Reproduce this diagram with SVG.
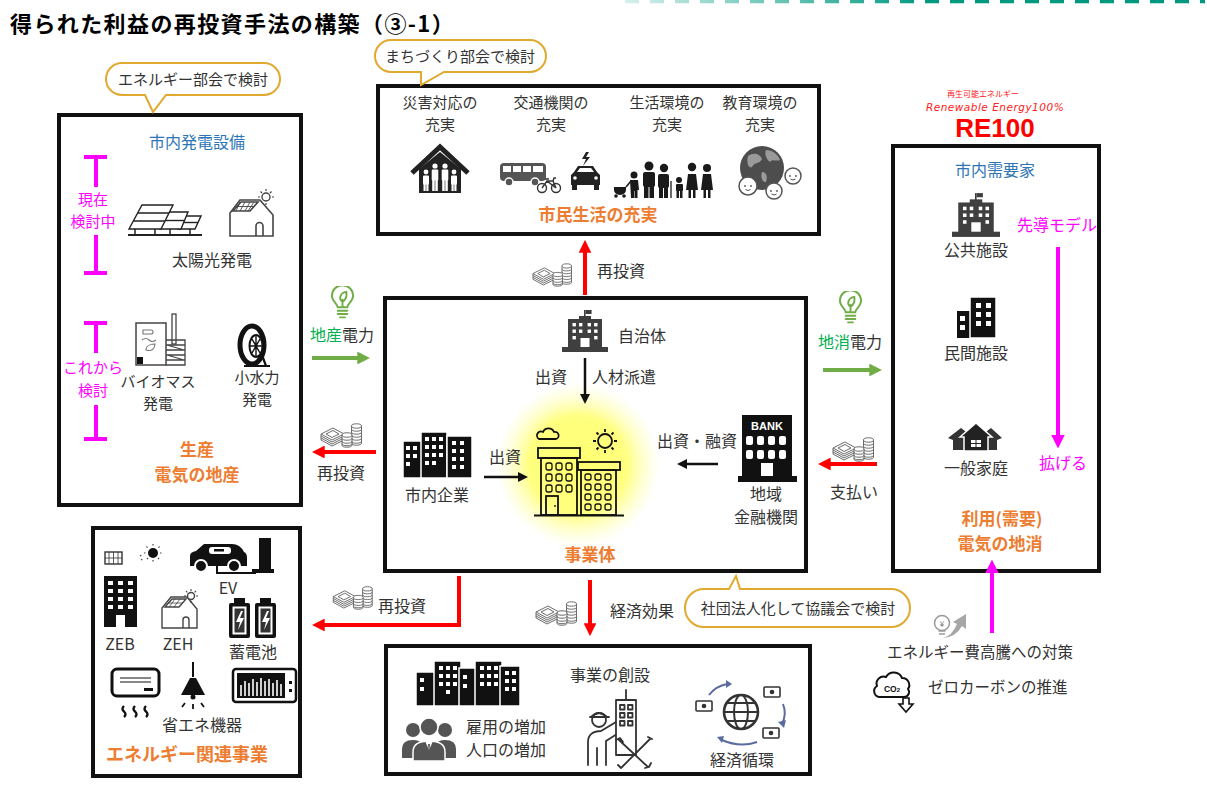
<svg xmlns="http://www.w3.org/2000/svg" width="1207" height="785" viewBox="0 0 1207 785">
<style>
text{font-family:"Noto Sans CJK JP","Noto Sans",sans-serif;fill:#333;font-size:16px}
.m{text-anchor:middle}
.box{fill:#fff;stroke:#111;stroke-width:4}
.hd{fill:#ED7D31;font-weight:bold;font-size:17px}
.bl{fill:#2E75B6}
.mg{fill:#FF00FF}
.gr{fill:#00B050}
.call{fill:#fff;stroke:#E1A92E;stroke-width:2}
.sm{font-size:15px}
.ar{fill:none;stroke-width:4}
.red{stroke:#FF0000}
.grn{stroke:#70AD47}
.blk{stroke:#111;stroke-width:2.5;fill:none}
.mgl{stroke:#FF00FF;stroke-width:4;fill:none}
.k{fill:#111}
.w{fill:#fff}
.ol{fill:#fff;stroke:#222;stroke-width:1.5}
</style>
<defs>
<linearGradient id="dashfade" gradientUnits="userSpaceOnUse" x1="625" y1="0" x2="930" y2="0">
<stop offset="0" stop-color="#d6f0ec"/><stop offset="1" stop-color="#00997f"/>
</linearGradient>
<radialGradient id="glow">
<stop offset="0" stop-color="#ffff70"/><stop offset="0.6" stop-color="#ffff80"/><stop offset="1" stop-color="#ffffc0" stop-opacity="0"/>
</radialGradient>
<marker id="ah-red" viewBox="0 0 10 10" refX="6" refY="5" markerWidth="3.2" markerHeight="3.2" orient="auto"><path d="M0,0L10,5L0,10z" fill="#FF0000"/></marker>
<marker id="ah-grn" viewBox="0 0 10 10" refX="6" refY="5" markerWidth="3.2" markerHeight="3.2" orient="auto"><path d="M0,0L10,5L0,10z" fill="#70AD47"/></marker>
<marker id="ah-blk" viewBox="0 0 10 10" refX="6" refY="5" markerWidth="4" markerHeight="4" orient="auto"><path d="M0,0L10,5L0,10z" fill="#111"/></marker>
<marker id="ah-mg" viewBox="0 0 10 10" refX="6" refY="5" markerWidth="3.4" markerHeight="3.4" orient="auto"><path d="M0,0L10,5L0,10z" fill="#FF00FF"/></marker>
<symbol id="money" viewBox="0 0 42 26">
<g stroke="#6b6b6b" stroke-width="1" fill="#fff">
<path d="M31.5,4 V21 A5,2.2 0 0 0 41.5,21 V4"/>
<ellipse cx="36.5" cy="4" rx="5" ry="2.2"/>
<path d="M31.5,7 A5,2.2 0 0 0 41.5,7 M31.5,10 A5,2.2 0 0 0 41.5,10 M31.5,13 A5,2.2 0 0 0 41.5,13 M31.5,16 A5,2.2 0 0 0 41.5,16 M31.5,19 A5,2.2 0 0 0 41.5,19" fill="none"/>
<path d="M1,12 V18 L12,24 L24,18 V12"/>
<path d="M1,14 L12,20 L24,14 M1,16 L12,22 L24,16" fill="none"/>
<path d="M1,12 L13,6 L24,12 L12,18Z"/>
<path d="M6,12 L13,8.5 L19,12 L12,15.5Z" fill="none"/>
<path d="M22,13 V23 A5,2.2 0 0 0 32,23 V13"/>
<ellipse cx="27" cy="13" rx="5" ry="2.2"/>
<path d="M22,16 A5,2.2 0 0 0 32,16 M22,19 A5,2.2 0 0 0 32,19 M22,21.5 A5,2.2 0 0 0 32,21.5" fill="none"/>
</g>
</symbol>
<symbol id="bulb" viewBox="0 0 26 34">
<g fill="none" stroke="#70AD47" stroke-width="2" stroke-linecap="round">
<path d="M8,22 C8,18 2,16 2,10 A11,11 0 0 1 24,10 C24,16 18,18 18,22 Z"/>
<path d="M8,25.5 H18 M8,29 H18 M10.5,32.5 H15.5"/>
<path d="M13,21 V14 M13,16 C9,14 10,7 17,6 C18,12 15,15 13,16"/>
</g>
</symbol>
<symbol id="pub" viewBox="0 0 46 42">
<g fill="#3f3f3f">
<rect x="22" y="0" width="1.6" height="8"/>
<rect x="23.6" y="0" width="6" height="4"/>
<rect x="17" y="6" width="12" height="4"/>
<rect x="6" y="9" width="34" height="29"/>
<rect x="0" y="37" width="46" height="5"/>
</g>
<g fill="#fff">
<rect x="10.5" y="13" width="3.4" height="3.4"/><rect x="17" y="13" width="3.4" height="3.4"/><rect x="25.6" y="13" width="3.4" height="3.4"/><rect x="32.1" y="13" width="3.4" height="3.4"/>
<rect x="10.5" y="19.5" width="3.4" height="3.4"/><rect x="17" y="19.5" width="3.4" height="3.4"/><rect x="25.6" y="19.5" width="3.4" height="3.4"/><rect x="32.1" y="19.5" width="3.4" height="3.4"/>
<rect x="10.5" y="26" width="3.4" height="3.4"/><rect x="32.1" y="26" width="3.4" height="3.4"/>
<rect x="18.5" y="28" width="9" height="9"/>
</g>
</symbol>
</defs>

<!-- heading and top rule -->
<line x1="625" y1="1.5" x2="1205" y2="1.5" stroke="url(#dashfade)" stroke-width="3.5" stroke-dasharray="14 11"/>
<text x="10" y="32" style="font-size:22px;font-weight:bold;fill:#000;letter-spacing:1.4px">得られた利益の再投資手法の構築（③-1）</text>

<!-- production: municipal generation -->
<g id="node-production">
<rect class="box" x="59" y="115" width="242" height="390"/>
<text class="m bl" x="197" y="148">市内発電設備</text>
<path class="mgl" d="M84,157 H107 M96,157 V187 M96,235 V273 M84,273 H107"/>
<text class="m mg sm" x="93" y="205">現在</text>
<text class="m mg sm" x="93" y="227">検討中</text>
<path class="mgl" d="M84,323 H107 M96,323 V353 M96,405 V439 M84,439 H107"/>
<text class="m mg sm" x="93" y="373">これから</text>
<text class="m mg sm" x="93" y="396">検討</text>
<!-- solar arrays -->
<g stroke="#222" stroke-width="1.4" fill="#fff">
<polygon points="178,229 185,216 201,216 195,229"/>
<path d="M182,222.5 H198" fill="none"/>
<polygon points="160,229 168,212 188,212 181,229"/>
<path d="M164,220.5 H184.5" fill="none"/>
<polygon points="129,229 142,205 173,205 161,229"/>
<path d="M137.7,213 H169 M133.3,221 H165" fill="none"/>
</g>
<path d="M128,235 H202" stroke="#222" stroke-width="2.2"/>
<path d="M135,229 V235 M155,229 V235 M170,229 V235 M190,229 V235" stroke="#222" stroke-width="1.5"/>
<!-- house with rooftop panels -->
<g stroke="#444" stroke-width="1.6" fill="#fff">
<path d="M230,236 V213 L240,200 H260 L273,215 V236 Z"/>
<polygon points="233,211 241,202 258,202 250,211"/>
<path d="M237,206.5 H254 M240,202 L236,211 M245,202 L240,211 M250,202 L245,211 M254,202 L248,211" fill="none" stroke-width="0.9"/>
<path d="M256,236 V226 A3.5,3.5 0 0 1 263,226 V236" fill="none"/>
</g>
<circle cx="266" cy="197" r="4" fill="#fff" stroke="#444" stroke-width="1.4"/>
<path d="M266,189 V191 M266,203 V205 M258,197 H260 M272,197 H274 M260.5,191.5 L262,193 M271.5,191.5 L270,193" stroke="#444" stroke-width="1.2"/>
<text class="m" x="212" y="266">太陽光発電</text>
<!-- biomass plant -->
<rect x="136" y="323" width="30" height="42" fill="#fff" stroke="#444" stroke-width="1.5"/>
<path d="M143,330 h8 a2,2 0 0 1 0,4 h-8z M142,340 q4,-3 7,0 q3,3 7,0 M146,350 c0,-5 6,-6 9,-6 c0,4 -3,8 -9,6z" fill="none" stroke="#777" stroke-width="1.1"/>
<rect x="137" y="357" width="6" height="7" class="k"/>
<rect x="172" y="314" width="4" height="30" fill="#fff" stroke="#444" stroke-width="1.3"/>
<path d="M166,340 H185 V365 H166 M166,345 H185 M166,350 H185 M166,355 H185 M166,360 H185 M167,345 L184,350 M167,355 L184,360" fill="none" stroke="#444" stroke-width="1.3"/>
<!-- small hydro wheel -->
<ellipse cx="252" cy="345" rx="12" ry="19" fill="none" stroke="#111" stroke-width="5"/>
<ellipse cx="256" cy="346" rx="6.5" ry="11" fill="#fff" stroke="#111" stroke-width="2"/>
<path d="M256,335 V357 M250,346 H262 M252,339 L260,353 M260,339 L252,353" stroke="#111" stroke-width="1.4"/>
<path d="M244,366 H270 M262,355 L266,366" stroke="#111" stroke-width="2.2"/>
<text class="m sm" x="158" y="387">バイオマス</text>
<text class="m sm" x="158" y="409">発電</text>
<text class="m sm" x="257" y="383">小水力</text>
<text class="m sm" x="257" y="405">発電</text>
<text class="m hd" x="197" y="456">生産</text>
<text class="m hd" x="197" y="481">電気の地産</text>
</g>

<!-- citizen life -->
<g id="node-citizen-life">
<rect class="box" x="378" y="86" width="441" height="148"/>
<text class="m sm" x="440" y="108">災害対応の</text><text class="m sm" x="440" y="130">充実</text>
<text class="m sm" x="551" y="108">交通機関の</text><text class="m sm" x="551" y="130">充実</text>
<text class="m sm" x="667" y="108">生活環境の</text><text class="m sm" x="667" y="130">充実</text>
<text class="m sm" x="760" y="108">教育環境の</text><text class="m sm" x="760" y="130">充実</text>
<!-- shelter -->
<polyline points="412,173 440,147 468,173" fill="none" stroke="#222" stroke-width="5"/>
<path d="M419,169 L440,152 L461,169 V193 H419 Z" fill="#222"/>
<g fill="#fff">
<circle cx="426" cy="172" r="2.4"/><rect x="423" y="175.5" width="6" height="9" rx="1"/><rect x="423.5" y="184" width="2.2" height="7"/><rect x="426.3" y="184" width="2.2" height="7"/>
<circle cx="435" cy="166" r="2.6"/><rect x="431.7" y="169.6" width="6.6" height="11" rx="1"/><rect x="432.2" y="180" width="2.5" height="11"/><rect x="435.3" y="180" width="2.5" height="11"/>
<circle cx="445" cy="166" r="2.6"/><rect x="441.7" y="169.6" width="6.6" height="11" rx="1"/><rect x="442.2" y="180" width="2.5" height="11"/><rect x="445.3" y="180" width="2.5" height="11"/>
<circle cx="454" cy="172" r="2.4"/><rect x="451" y="175.5" width="6" height="9" rx="1"/><rect x="451.5" y="184" width="2.2" height="7"/><rect x="454.3" y="184" width="2.2" height="7"/>
</g>
<!-- bus, bicycle, car -->
<rect x="500" y="163" width="46" height="18" rx="4" fill="#555"/>
<g fill="#fff"><rect x="503" y="166" width="8" height="6"/><rect x="513" y="166" width="8" height="6"/><rect x="523" y="166" width="8" height="6"/><rect x="533" y="166" width="10" height="6"/></g>
<circle cx="509" cy="182" r="4" fill="#555" stroke="#fff" stroke-width="1.5"/><circle cx="535" cy="182" r="4" fill="#555" stroke="#fff" stroke-width="1.5"/>
<g fill="none" stroke="#333" stroke-width="1.4"><circle cx="542" cy="188" r="4.5"/><circle cx="556" cy="188" r="4.5"/><path d="M542,188 L547,181 L556,188 M547,181 H553 L556,188 M545,179 h4 M553,181 l1,-3 h2"/></g>
<path d="M586,152 L582,159 H586 L583,166 L590,157 H586 L589,152Z" fill="#222"/>
<path d="M571,185 V175 L574,172 L578,166 H593 L597,172 L600,175 V185 Z" fill="#222"/>
<polygon points="580,168 591,168 594,172 577,172" fill="#fff"/>
<circle cx="575" cy="178" r="1.8" fill="#fff"/><circle cx="596" cy="178" r="1.8" fill="#fff"/>
<rect x="572" y="184" width="5" height="6" fill="#222"/><rect x="594" y="184" width="5" height="6" fill="#222"/>
<!-- family -->
<g fill="#1a1a1a">
<path d="M614,187 H626 V190 A6,5 0 0 1 614,190 Z"/><circle cx="616" cy="196" r="1.8"/><circle cx="624" cy="196" r="1.8"/>
<path d="M626,187 L631,181" stroke="#1a1a1a" stroke-width="1.5"/>
<circle cx="634" cy="175" r="3.5"/><path d="M630,180 h8 l1,10 h-1.5 v8 h-3 v-7 h-0.5 v7 h-3 z"/>
<circle cx="649" cy="166" r="4.5"/><rect x="643" y="172" width="12" height="15" rx="2"/><rect x="644" y="186" width="4.5" height="12"/><rect x="649.5" y="186" width="4.5" height="12"/>
<circle cx="664" cy="168" r="4.2"/><rect x="658" y="174" width="11" height="14" rx="2"/><rect x="659" y="187" width="4" height="11"/><rect x="664" y="187" width="4" height="11"/>
<path d="M671,181 V198" stroke="#1a1a1a" stroke-width="1.3"/>
<circle cx="679" cy="180" r="3"/><rect x="676" y="184" width="7" height="7" rx="1"/><rect x="676.5" y="190" width="2.5" height="8"/><rect x="680" y="190" width="2.5" height="8"/>
<circle cx="692" cy="167" r="4.2"/><path d="M686,190 L688,174 H696 L698,190 Z"/><rect x="688.5" y="189" width="2.5" height="9"/><rect x="693" y="189" width="2.5" height="9"/>
<circle cx="707" cy="168" r="4"/><path d="M701,190 L703,174 H711 L713,190 Z"/><rect x="703.5" y="189" width="2.5" height="9"/><rect x="708" y="189" width="2.5" height="9"/>
</g>
<!-- globe with children -->
<circle cx="762" cy="168" r="22" fill="#4d4d4d"/>
<path d="M748,156 c6,-4 12,-2 14,3 c-2,5 -8,3 -10,8 c-3,2 -6,-4 -4,-11z M766,150 c6,0 12,4 14,10 c-4,2 -8,-2 -10,2 c-3,-2 -6,-8 -4,-12z M762,172 c4,0 6,4 4,10 c-3,1 -6,-4 -4,-10z" fill="#9a9a9a"/>
<g fill="#fff" stroke="#555" stroke-width="1.5">
<circle cx="793" cy="176" r="8"/><circle cx="748" cy="186" r="9"/><circle cx="774" cy="191" r="8"/>
</g>
<g fill="#555"><circle cx="790" cy="176" r="0.9"/><circle cx="796" cy="176" r="0.9"/><circle cx="745" cy="186" r="0.9"/><circle cx="751" cy="186" r="0.9"/><circle cx="771" cy="191" r="0.9"/><circle cx="777" cy="191" r="0.9"/></g>
<path d="M790.5,179 q2.5,2 5,0 M745.5,189.5 q2.5,2 5,0 M771.5,194 q2.5,2 5,0" fill="none" stroke="#555" stroke-width="1"/>
<text class="m hd" x="598" y="221">市民生活の充実</text>
</g>

<!-- operating body -->
<g id="node-operator">
<rect class="box" x="385" y="298" width="421" height="273"/>
<circle cx="578" cy="465" r="82" fill="url(#glow)"/>
<use href="#pub" x="562" y="310" width="46" height="42"/>
<text x="618" y="342">自治体</text>
<text class="m" x="551" y="383">出資</text>
<text x="592" y="383">人材派遣</text>
<!-- local companies -->
<g fill="#111" stroke="#fff" stroke-width="1.5">
<rect x="403" y="441" width="20" height="37"/>
<rect x="421" y="432" width="26" height="46"/>
<rect x="447" y="436" width="25" height="42"/>
</g>
<g fill="#fff">
<rect x="406" y="446" width="4" height="4"/><rect x="413" y="446" width="4" height="4"/><rect x="406" y="454" width="4" height="4"/><rect x="413" y="454" width="4" height="4"/><rect x="406" y="462" width="4" height="4"/>
<rect x="425" y="437" width="4" height="4"/><rect x="432" y="437" width="4" height="4"/><rect x="439" y="437" width="4" height="4"/><rect x="425" y="445" width="4" height="4"/><rect x="432" y="445" width="4" height="4"/><rect x="439" y="445" width="4" height="4"/><rect x="425" y="453" width="4" height="4"/><rect x="432" y="453" width="4" height="4"/><rect x="439" y="453" width="4" height="4"/><rect x="425" y="461" width="4" height="4"/><rect x="432" y="461" width="4" height="4"/>
<rect x="452" y="441" width="4" height="4"/><rect x="460" y="441" width="4" height="4"/><rect x="452" y="449" width="4" height="4"/><rect x="460" y="449" width="4" height="4"/><rect x="452" y="457" width="4" height="4"/><rect x="460" y="457" width="4" height="4"/><rect x="452" y="465" width="4" height="4"/><rect x="460" y="465" width="4" height="4"/>
</g>
<text class="m" x="437" y="501">市内企業</text>
<text class="m" x="505" y="463">出資</text>
<!-- business entity building -->
<g fill="none" stroke="#111" stroke-width="1.8">
<path d="M539,439 h17 a3.5,3.5 0 0 0 -2,-7 a6,6 0 0 0 -11,0 a3.5,3.5 0 0 0 -4,7z"/>
<circle cx="605" cy="441" r="7"/>
<path d="M605,429 v3 M605,450 v3 M593,441 h3 M614,441 h3 M596.5,432.5 l2,2 M611.5,447.5 l2,2 M613.5,432.5 l-2,2 M598.5,447.5 l-2,2"/>
<rect x="538" y="448" width="42" height="10"/>
<rect x="541" y="458" width="36" height="57"/>
<rect x="578" y="462" width="42" height="8"/>
<rect x="581" y="470" width="35" height="45"/>
<rect x="546" y="496" width="12" height="19"/>
<path d="M534,515.5 H624"/>
</g>
<g fill="none" stroke="#111" stroke-width="1.3">
<rect x="546" y="463" width="6" height="7" rx="2"/><rect x="556" y="463" width="6" height="7" rx="2"/><rect x="566" y="463" width="6" height="7" rx="2"/>
<rect x="546" y="474" width="6" height="7" rx="2"/><rect x="556" y="474" width="6" height="7" rx="2"/><rect x="566" y="474" width="6" height="7" rx="2"/>
<rect x="546" y="485" width="6" height="7" rx="2"/><rect x="556" y="485" width="6" height="7" rx="2"/><rect x="566" y="485" width="6" height="7" rx="2"/>
<rect x="585" y="474" width="6" height="6" rx="2"/><rect x="595" y="474" width="6" height="6" rx="2"/><rect x="605" y="474" width="6" height="6" rx="2"/>
<rect x="585" y="484" width="6" height="6" rx="2"/><rect x="595" y="484" width="6" height="6" rx="2"/><rect x="605" y="484" width="6" height="6" rx="2"/>
<rect x="585" y="494" width="6" height="6" rx="2"/><rect x="595" y="494" width="6" height="6" rx="2"/><rect x="605" y="494" width="6" height="6" rx="2"/>
<rect x="585" y="504" width="6" height="6" rx="2"/><rect x="595" y="504" width="6" height="6" rx="2"/><rect x="605" y="504" width="6" height="6" rx="2"/>
</g>
<circle cx="555" cy="506" r="0.9" fill="#111"/>
<!-- regional bank -->
<rect x="742" y="415" width="50" height="62" class="k"/>
<text x="767" y="430" class="m" style="font-family:'Liberation Sans',sans-serif;font-size:11px;font-weight:bold;fill:#fff">BANK</text>
<g fill="#fff">
<rect x="746" y="436" width="7" height="9" rx="2"/><rect x="757" y="436" width="7" height="9" rx="2"/><rect x="768" y="436" width="7" height="9" rx="2"/><rect x="779" y="436" width="7" height="9" rx="2"/>
<rect x="746" y="450" width="7" height="9" rx="2"/><rect x="757" y="450" width="7" height="9" rx="2"/><rect x="768" y="450" width="7" height="9" rx="2"/><rect x="779" y="450" width="7" height="9" rx="2"/>
<rect x="761" y="463" width="12" height="13"/>
</g>
<rect x="738" y="476" width="59" height="6" class="k"/>
<text class="m" x="697" y="447">出資・融資</text>
<text class="m" x="766" y="500">地域</text>
<text class="m" x="766" y="523">金融機関</text>
<text class="m hd" x="590" y="561">事業体</text>
</g>

<!-- demand side -->
<g id="node-demand">
<text class="m" x="983" y="97" style="font-size:8px;fill:#FF2020">再生可能エネルギー</text>
<text class="m" x="995" y="111" style="font-family:'DejaVu Sans',sans-serif;font-size:10.5px;font-style:italic;fill:#FF2020;letter-spacing:0.5px">Renewable Energy100%</text>
<text class="m" x="995" y="137" style="font-family:'Liberation Sans',sans-serif;font-size:26px;font-weight:bold;fill:#FF0000">RE100</text>
<rect class="box" x="893" y="146" width="206" height="425"/>
<text class="m bl" x="995" y="176">市内需要家</text>
<use href="#pub" x="952" y="193" width="48" height="44"/>
<text class="m" x="976" y="256">公共施設</text>
<rect x="957" y="311" width="16" height="27" class="k"/>
<rect x="970" y="297" width="26" height="41" class="k" stroke="#fff" stroke-width="1.5"/>
<g fill="#fff"><rect x="976" y="303" width="5" height="5"/><rect x="986" y="303" width="5" height="5"/><rect x="976" y="312" width="5" height="5"/><rect x="986" y="312" width="5" height="5"/><rect x="976" y="321" width="5" height="5"/><rect x="986" y="321" width="5" height="5"/><rect x="960" y="316" width="5" height="5"/><rect x="960" y="325" width="5" height="5"/></g>
<text class="m" x="976" y="359">民間施設</text>
<path d="M948,438 L961,428 L970,435 V450 H953 V440 Z" fill="#333"/>
<path d="M1002,438 L991,428 L982,435 V450 H997 V440 Z" fill="#333"/>
<path d="M960,437 L976,423 L992,437 H988 V451 H964 V437 Z" fill="#222" stroke="#fff" stroke-width="1.5"/>
<rect x="971" y="440" width="10" height="7" fill="#fff"/><path d="M976,440 V447 M971,443.5 H981" stroke="#222" stroke-width="1"/>
<text class="m" x="976" y="474">一般家庭</text>
<text class="m mg" x="1057" y="231">先導モデル</text>
<text class="m mg" x="1063" y="469">拡げる</text>
<text class="m hd" x="1002" y="525">利用(需要)</text>
<text class="m hd" x="1000" y="550">電気の地消</text>
</g>

<!-- energy related business -->
<g id="node-energy-business">
<rect class="box" x="93" y="528" width="207" height="248"/>
<rect x="105" y="552" width="17" height="12" fill="#fff" stroke="#333" stroke-width="1.4"/>
<path d="M109,552 V564 M113.5,552 V564 M118,552 V564 M105,558 H122" stroke="#333" stroke-width="0.8"/>
<circle cx="153" cy="553" r="5" class="k"/>
<path d="M153,544 v2 M153,560 v2 M144,553 h2 M160,553 h2 M146.5,546.5 l1.4,1.4 M158,558 l1.4,1.4 M159.5,546.5 l-1.4,1.4 M148,558 l-1.4,1.4 M140,556 l2,-1 M141,560 l2,-1" stroke="#444" stroke-width="1.2" stroke-dasharray="1.5 1"/>
<rect x="104" y="576" width="33" height="51" class="k"/>
<g fill="#fff"><rect x="108" y="581" width="5" height="4"/><rect x="118" y="581" width="5" height="4"/><rect x="128" y="581" width="5" height="4"/><rect x="108" y="589" width="5" height="4"/><rect x="118" y="589" width="5" height="4"/><rect x="128" y="589" width="5" height="4"/><rect x="108" y="597" width="5" height="4"/><rect x="118" y="597" width="5" height="4"/><rect x="128" y="597" width="5" height="4"/><rect x="108" y="605" width="5" height="4"/><rect x="118" y="605" width="5" height="4"/><rect x="128" y="605" width="5" height="4"/><rect x="116" y="615" width="9" height="12"/></g>
<!-- EV -->
<path d="M190,566 V556 Q190,552 196,551 L204,544 H232 Q240,544 244,552 Q247,553 247,558 V566 Z" class="k"/>
<rect x="209" y="547" width="22" height="7" rx="3" fill="#fff"/>
<rect x="214" y="549" width="10" height="2.5" class="k"/>
<circle cx="201" cy="566" r="6" class="k" stroke="#fff" stroke-width="2"/><circle cx="234" cy="566" r="6" class="k" stroke="#fff" stroke-width="2"/>
<path d="M217,557 V573 H256" fill="none" stroke="#111" stroke-width="2"/>
<path d="M214,556 h6 v3 h-6z" class="k"/>
<rect x="259" y="538" width="12" height="31" class="k"/>
<rect x="252" y="569" width="22" height="4" class="k"/>
<text class="m" x="228" y="594">EV</text>
<!-- ZEH -->
<g stroke="#444" stroke-width="1.4" fill="#fff">
<path d="M162,628 V608 L171,597 H187 L197,609 V628 Z"/>
<polygon points="165,607 172,599 186,599 179,607"/>
<path d="M168.5,603 H182.5 M175,599 L169,607 M180,599 L174,607" fill="none" stroke-width="0.8"/>
<path d="M183,628 V620 A3,3 0 0 1 189,620 V628" fill="none"/>
<circle cx="191" cy="596" r="3.5"/>
</g>
<path d="M191,589 v2 M191,601 v2 M184,596 h2 M196,596 h2 M186,591 l1.3,1.3 M196,591 l-1.3,1.3" stroke="#444" stroke-width="1.1"/>
<text class="m" x="120" y="650">ZEB</text>
<text class="m" x="178" y="650">ZEH</text>
<!-- storage batteries -->
<g>
<rect x="234" y="598" width="11" height="6" class="k"/><rect x="229" y="603" width="21" height="35" rx="2" class="k"/><rect x="232.5" y="606.5" width="14" height="28" fill="#fff"/><rect x="234.5" y="608.5" width="10" height="24" fill="#333"/>
<path d="M241,611 L236,622 H240 L238,630 L244,618 H240 L243,611Z" fill="#fff"/>
<rect x="260" y="598" width="11" height="6" class="k"/><rect x="255" y="603" width="21" height="35" rx="2" class="k"/><rect x="258.5" y="606.5" width="14" height="28" fill="#fff"/><rect x="260.5" y="608.5" width="10" height="24" fill="#333"/>
<path d="M267,611 L262,622 H266 L264,630 L270,618 H266 L269,611Z" fill="#fff"/>
</g>
<text class="m" x="253" y="658">蓄電池</text>
<!-- air conditioner -->
<rect x="112" y="669" width="47" height="27" rx="5" fill="#fff" stroke="#111" stroke-width="3"/>
<path d="M120,678 H151 M120,682 H151" stroke="#111" stroke-width="1.2"/>
<rect x="144" y="688" width="9" height="3" class="k"/>
<path d="M124,706 q-3,3 0,5.5 q3,3 0,5.5 M135,706 q-3,3 0,5.5 q3,3 0,5.5 M146,706 q-3,3 0,5.5 q3,3 0,5.5" fill="none" stroke="#111" stroke-width="2.4"/>
<!-- lamp -->
<path d="M193,662 V677" stroke="#111" stroke-width="2"/>
<path d="M181,695 L190,678 H196 L205,695 Z" class="k"/>
<circle cx="193" cy="697" r="2.5" class="k"/>
<path d="M185,703 l-3,4 M193,704 v5 M201,703 l3,4" stroke="#111" stroke-width="1.8"/>
<!-- monitor -->
<rect x="233" y="669" width="63" height="33" rx="3" fill="#fff" stroke="#111" stroke-width="2.5"/>
<rect x="237" y="673" width="48" height="25" class="k"/>
<path d="M241,696 V685 M245,696 V681 M249,696 V683 M253,696 V679 M257,696 V682 M261,696 V678 M265,696 V681 M269,696 V679 M273,696 V683 M277,696 V680 M281,696 V684" stroke="#fff" stroke-width="1.6"/>
<rect x="289" y="681" width="3" height="3" class="k"/><rect x="289" y="689" width="3" height="3" class="k"/>
<text class="m" x="202" y="731">省エネ機器</text>
<text class="m hd" x="187" y="761" style="font-size:18px">エネルギー関連事業</text>
</g>

<!-- economic effects -->
<g id="node-economy">
<rect class="box" x="386" y="646" width="424" height="128"/>
<g fill="#111" stroke="#fff" stroke-width="1.5">
<rect x="416" y="672" width="20" height="34"/><rect x="434" y="661" width="27" height="45"/><rect x="459" y="668" width="18" height="38"/><rect x="475" y="661" width="27" height="45"/><rect x="500" y="666" width="20" height="40"/>
</g>
<g fill="#fff">
<rect x="420" y="678" width="4" height="4"/><rect x="420" y="687" width="4" height="4"/>
<rect x="439" y="666" width="4" height="4"/><rect x="446" y="666" width="4" height="4"/><rect x="453" y="666" width="4" height="4"/><rect x="439" y="674" width="4" height="4"/><rect x="446" y="674" width="4" height="4"/><rect x="453" y="674" width="4" height="4"/><rect x="439" y="682" width="4" height="4"/><rect x="446" y="682" width="4" height="4"/><rect x="453" y="682" width="4" height="4"/><rect x="446" y="690" width="4" height="4"/>
<rect x="463" y="675" width="4" height="4"/><rect x="463" y="684" width="4" height="4"/>
<rect x="480" y="666" width="4" height="4"/><rect x="487" y="666" width="4" height="4"/><rect x="494" y="666" width="4" height="4"/><rect x="480" y="674" width="4" height="4"/><rect x="487" y="674" width="4" height="4"/><rect x="494" y="674" width="4" height="4"/><rect x="480" y="682" width="4" height="4"/><rect x="487" y="682" width="4" height="4"/><rect x="494" y="682" width="4" height="4"/>
<rect x="505" y="671" width="4" height="4"/><rect x="512" y="671" width="4" height="4"/><rect x="505" y="679" width="4" height="4"/><rect x="512" y="679" width="4" height="4"/><rect x="505" y="687" width="4" height="4"/><rect x="512" y="687" width="4" height="4"/>
</g>
<!-- people -->
<g fill="#555">
<circle cx="413" cy="730" r="7"/><path d="M402,758 V749 Q402,740 413,740 Q420,740 423,745 V758 Z"/>
<circle cx="445" cy="730" r="7"/><path d="M456,758 V749 Q456,740 445,740 Q438,740 435,745 V758 Z"/>
<circle cx="429" cy="727" r="9" stroke="#fff" stroke-width="1.5"/><path d="M413,761 V752 Q413,741 429,741 Q445,741 445,752 V761 Z" stroke="#fff" stroke-width="1.5"/>
</g>
<path d="M425,741 L429,750 L433,741 Z" fill="#fff"/><path d="M428,744 L429,754 L430,744 Z" fill="#555"/>
<text x="466" y="733">雇用の増加</text>
<text x="466" y="756">人口の増加</text>
<text class="m" x="610" y="681">事業の創設</text>
<!-- worker -->
<g fill="none" stroke="#333" stroke-width="1.8" stroke-linecap="round" stroke-linejoin="round">
<circle cx="599" cy="720" r="7"/>
<path d="M591,717 Q599,709 607,717 M590,717 H609"/>
<path d="M588,765 V742 C588,734 594,731 601,731 L616,722 M597,765 V748 M606,765 V741 L617,734"/>
<rect x="616" y="700" width="20" height="55" fill="#fff"/>
<path d="M626,690 V700"/>
<rect x="620" y="705" width="4.5" height="4.5"/><rect x="628" y="705" width="4.5" height="4.5"/><rect x="620" y="713" width="4.5" height="4.5"/><rect x="628" y="713" width="4.5" height="4.5"/><rect x="620" y="721" width="4.5" height="4.5"/><rect x="628" y="721" width="4.5" height="4.5"/>
<path d="M619,740 L648,767 M616,740 l4,-2 l3,4 M645,768 l4,-1 l2,-4"/>
<path d="M650,739 L622,767 M648,737 l4,2 M621,768 l-3,-3"/>
</g>
<!-- economic cycle -->
<g fill="none" stroke="#333" stroke-width="2.6">
<circle cx="741" cy="712" r="17"/>
<ellipse cx="741" cy="712" rx="7" ry="17" stroke-width="2"/>
<path d="M724,712 H758 M727,703 H755 M727,721 H755" stroke-width="1.8"/>
</g>
<g fill="#fff" stroke="#333" stroke-width="1.6">
<rect x="696" y="701" width="16" height="10" rx="1"/><rect x="764" y="687" width="16" height="10" rx="1"/><rect x="763" y="728" width="16" height="10" rx="1"/>
</g>
<g fill="#333"><circle cx="704" cy="706" r="2.3"/><circle cx="772" cy="692" r="2.3"/><circle cx="771" cy="733" r="2.3"/></g>
<g fill="none" stroke="#5B6B9E" stroke-width="2">
<path d="M709,695 Q716,686 727,684"/><path d="M783,704 Q787,714 782,724"/><path d="M757,742 Q740,748 722,740"/>
</g>
<g fill="#5B6B9E"><path d="M726,680 L732,684 L726,688Z"/><path d="M778,722 L784,728 L786,720Z"/><path d="M724,736 L717,737 L722,743Z"/></g>
<text class="m" x="742" y="766">経済循環</text>
</g>

<!-- policy notes -->
<g id="node-notes">
<circle cx="942" cy="623" r="7.5" fill="#fff" stroke="#9a9a9a" stroke-width="1.5"/>
<path d="M938.5,631 H945.5 M939,634 H945" stroke="#9a9a9a" stroke-width="1.5"/>
<text x="942" y="626.5" class="m" style="font-size:8px;fill:#777">¥</text>
<path d="M943,638 Q952,636 957,624 L953,622 L966,614 L966,629 L962,626 Q956,637 943,638Z" fill="#a6a6a6"/>
<text class="m" x="980" y="658" style="font-size:15.5px">エネルギー費高騰への対策</text>
<path d="M879,697 a6,6 0 0 1 -2,-11 a7,7 0 0 1 9,-9 a9,9 0 0 1 16,1 a7,7 0 0 1 6,11 a5,5 0 0 1 -4,8 Z" fill="#fff" stroke="#111" stroke-width="2"/>
<text x="892" y="692" class="m" style="font-family:'Liberation Sans',sans-serif;font-size:8.5px;font-weight:bold;fill:#111">CO<tspan style="font-size:6px">2</tspan></text>
<path d="M903,698 V704 H899 L906,712 L913,704 H909 V698 Z" fill="#fff" stroke="#111" stroke-width="1.6"/>
<text x="928" y="693" style="font-size:15.5px">ゼロカーボンの推進</text>
</g>

<!-- review callouts -->
<g id="callouts">
<path class="call" d="M122,63 H264 A16,16 0 0 1 264,95 H166 L153,112 L145,95 H122 A16,16 0 0 1 122,63 Z"/>
<text class="m sm" x="193" y="85">エネルギー部会で検討</text>
<path class="call" d="M391,40 H530 A16,16 0 0 1 530,72 H444 L421,85 L421,72 H391 A16,16 0 0 1 391,40 Z"/>
<text class="m sm" x="460" y="62">まちづくり部会で検討</text>
<path class="call" d="M704,589 H729 L736,576 L740,589 H891 A19,19 0 0 1 891,627 H704 A19,19 0 0 1 704,589 Z"/>
<text class="m sm" x="798" y="614">社団法人化して協議会で検討</text>
</g>

<!-- flows between blocks -->
<g id="connectors">
<path class="ar red" d="M585,295 V245" marker-end="url(#ah-red)"/>
<path class="ar grn" d="M312,358 H365" marker-end="url(#ah-grn)"/>
<path class="ar red" d="M376,452 H317" marker-end="url(#ah-red)"/>
<path class="ar grn" d="M823,370 H877" marker-end="url(#ah-grn)"/>
<path class="ar red" d="M877,464 H823" marker-end="url(#ah-red)"/>
<path class="ar red" d="M459,576 V625 H317" marker-end="url(#ah-red)"/>
<path class="ar red" d="M590,580 V631" marker-end="url(#ah-red)"/>
<path class="blk" d="M585,358 V400" marker-end="url(#ah-blk)"/>
<path class="blk" d="M484,477 H524" marker-end="url(#ah-blk)"/>
<path class="blk" d="M718,464 H681" marker-end="url(#ah-blk)"/>
<path class="mgl" d="M1058,247 V443" marker-end="url(#ah-mg)"/>
<path class="mgl" d="M992,633 V565" marker-end="url(#ah-mg)"/>
<use href="#money" x="532" y="262" width="40" height="25"/>
<text x="597" y="277">再投資</text>
<use href="#bulb" x="330" y="286" width="25" height="33"/>
<text class="m" x="342" y="341"><tspan class="gr">地産</tspan>電力</text>
<use href="#money" x="320" y="422" width="42" height="26"/>
<text class="m" x="341" y="479">再投資</text>
<use href="#bulb" x="838" y="291" width="25" height="33"/>
<text class="m" x="850" y="348"><tspan class="gr">地消</tspan>電力</text>
<use href="#money" x="832" y="436" width="42" height="26"/>
<text class="m" x="854" y="498">支払い</text>
<use href="#money" x="332" y="585" width="41" height="25"/>
<text x="378" y="612">再投資</text>
<use href="#money" x="535" y="600" width="42" height="26"/>
<text x="610" y="617">経済効果</text>
</g>
</svg>
